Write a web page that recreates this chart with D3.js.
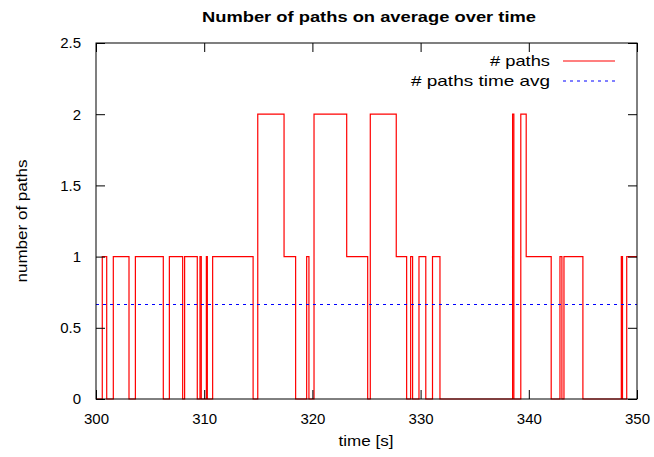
<!DOCTYPE html>
<html>
<head>
<meta charset="utf-8">
<script src="https://cdn.jsdelivr.net/npm/d3@7"></script>
<style>
  body { margin: 0; background: #fff; }
  svg { font-family: "Liberation Sans", Arial, sans-serif; }
</style>
</head>
<body>
<svg id="chart" width="654" height="457"></svg>
<script>
// step data: time of change and number of paths after it
const times = [300.0, 300.58, 300.99, 301.6, 303.05, 303.64, 306.22, 306.78, 308.01, 308.19,
  309.36, 309.61, 309.73, 310.2, 310.29, 310.78, 314.52, 314.95, 317.38, 318.45,
  319.47, 319.68, 320.15, 323.17, 325.11, 325.35, 327.75, 328.71, 329.08, 329.26,
  329.85, 330.48, 331.1, 331.79, 338.5, 338.62, 339.26, 339.76, 342.07, 342.88,
  343.06, 343.25, 345.0, 348.55, 348.66, 349.05, 350.0];
const paths = [0, 1, 0, 1, 0, 1, 0, 1, 0, 1,
  0, 1, 0, 1, 0, 1, 0, 2, 1, 0,
  1, 0, 2, 1, 0, 2, 1, 0, 1, 0,
  1, 0, 1, 0, 2, 0, 2, 1, 0, 1,
  0, 1, 0, 1, 0, 1, 1];
const timeAvg = [0.667];
const xTicks = [300, 310, 320, 330, 340, 350];
const yTicks = [0, 0.5, 1, 1.5, 2, 2.5];

const svg = d3.select("#chart");
const plotL = 96, plotR = 637, plotT = 43, plotB = 399;

const x = d3.scaleLinear().domain([300, 350]).range([plotL, plotR]);
const y = d3.scaleLinear().domain([0, 2.5]).range([plotB, plotT]);

const pts = times.map((t, i) => ({ t: t, v: paths[i] }));

// red step line
const line = d3.line()
  .x(d => x(d.t))
  .y(d => y(d.v))
  .curve(d3.curveStepAfter);

svg.append("path")
  .datum(pts)
  .attr("d", line)
  .attr("fill", "none")
  .attr("stroke", "#ff0000")
  .attr("stroke-width", 1.2);

// time average (dotted blue)
svg.append("line")
  .attr("x1", x(300)).attr("x2", x(350))
  .attr("y1", y(timeAvg[0]) + 0.5).attr("y2", y(timeAvg[0]) + 0.5)
  .attr("stroke", "#0000ff")
  .attr("stroke-width", 1)
  .attr("shape-rendering", "crispEdges")
  .attr("stroke-dasharray", "3,4");

// axes, gnuplot style: inward ticks mirrored on all sides
const tk = 9;
svg.append("g").attr("transform", `translate(0,${plotB})`)
  .call(d3.axisBottom(x).tickValues(xTicks).tickSize(-tk).tickPadding(tk + 5).tickFormat(d3.format("d")));
svg.append("g").attr("transform", `translate(0,${plotT})`)
  .call(d3.axisTop(x).tickValues(xTicks).tickSize(-tk).tickFormat(""));
svg.append("g").attr("transform", `translate(${plotL},0)`)
  .call(d3.axisLeft(y).tickValues(yTicks).tickSize(-tk).tickPadding(tk + 6).tickFormat(d => String(d)));
svg.append("g").attr("transform", `translate(${plotR},0)`)
  .call(d3.axisRight(y).tickValues(yTicks).tickSize(-tk).tickFormat(""));

svg.selectAll(".domain").remove();
svg.selectAll(".tick line").attr("stroke", "#000");
svg.selectAll(".tick text").attr("font-size", 15).attr("fill", "#000")
  .attr("font-family", "Liberation Sans, Arial, sans-serif");

svg.append("rect")
  .attr("x", plotL).attr("y", plotT)
  .attr("width", plotR - plotL).attr("height", plotB - plotT)
  .attr("fill", "none").attr("stroke", "#000").attr("stroke-width", 1);

// title and axis labels
svg.append("text")
  .attr("x", 369).attr("y", 22)
  .attr("text-anchor", "middle")
  .attr("font-size", 15).attr("font-weight", "bold")
  .attr("textLength", 334).attr("lengthAdjust", "spacingAndGlyphs")
  .text("Number of paths on average over time");

svg.append("text")
  .attr("x", 366).attr("y", 446)
  .attr("text-anchor", "middle")
  .attr("font-size", 15)
  .attr("textLength", 55).attr("lengthAdjust", "spacingAndGlyphs")
  .text("time [s]");

svg.append("text")
  .attr("transform", "translate(27,221) rotate(-90)")
  .attr("text-anchor", "middle")
  .attr("font-size", 15)
  .attr("textLength", 123).attr("lengthAdjust", "spacingAndGlyphs")
  .text("number of paths");

// legend
const legend = [
  { label: "# paths", color: "#ff0000", dash: null, yy: 61, w: 60 },
  { label: "# paths time avg", color: "#0000ff", dash: "3,4", yy: 81, w: 139 }
];
legend.forEach(d => {
  svg.append("text")
    .attr("x", 550).attr("y", d.yy + 5)
    .attr("text-anchor", "end")
    .attr("font-size", 15)
    .attr("textLength", d.w).attr("lengthAdjust", "spacingAndGlyphs")
    .text(d.label);
  svg.append("line")
    .attr("x1", 563).attr("x2", 615)
    .attr("y1", d.yy).attr("y2", d.yy)
    .attr("stroke", d.color)
    .attr("stroke-width", d.dash ? 1 : 1.2)
    .attr("stroke-dasharray", d.dash);
});
</script>
</body>
</html>
